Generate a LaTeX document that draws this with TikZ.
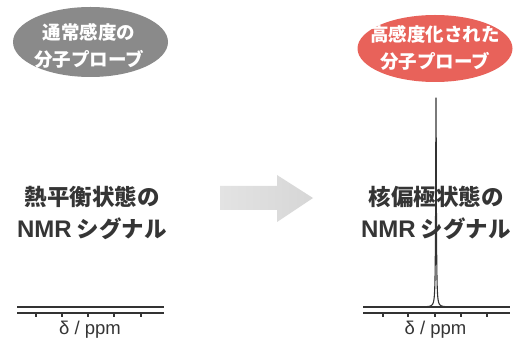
\documentclass[tikz,border=0pt]{standalone}
\usepackage{fontspec}
\setmainfont{Noto Sans CJK JP}
\newfontfamily\axisfont{Liberation Sans}
\usetikzlibrary{shapes.geometric}
\definecolor{txtgrey}{HTML}{353535}
\definecolor{probegrey}{HTML}{8A8A8A}
\definecolor{probered}{HTML}{E8625A}
\definecolor{linegrey}{HTML}{333333}
\tikzset{
  probe/.style={ellipse, inner sep=0pt, minimum width=155pt, minimum height=70pt, draw=none},
  probetext/.style={text=white, align=center, font=\bfseries\fontsize{18.5}{27}\selectfont, inner sep=0pt},
  maintext/.style={text=txtgrey, align=center, font=\bfseries\fontsize{22.5}{32}\selectfont, inner sep=0pt},
  axistext/.style={text=txtgrey, font=\axisfont\fontsize{18.5}{20}\selectfont, inner sep=0pt},
  spec/.style={draw=linegrey, line width=1.2pt},
}
\newcommand{\nmrword}{{\axisfont\bfseries\fontsize{24}{32}\selectfont NMR}}
\begin{document}
\begin{tikzpicture}[x=1pt,y=-1pt]
\useasboundingbox (0,0) rectangle (519,347);
% probes
\node[probe, fill=probegrey] (gp) at (90.5,42) {};
\node[probetext] (gpt) at (89,46) {通常感度の\\分子プローブ};
\node[probe, fill=probered, minimum height=67pt] (rp) at (435,48.5) {};
\node[probetext] (rpt) at (435,48) {高感度化された\\分子プローブ};
% arrow
\shade[left color=black!11, right color=black!16]
  (220,186) -- (277,186) -- (277,175) -- (313,198) -- (277,222) -- (277,210) -- (220,210) -- cycle;
% left spectrum
\draw[spec] (17,307) -- (164,307);
\draw[spec] (17,313) -- (164,313);
\foreach \t in {36,62,88,114,141} \draw[spec] (\t,313) -- (\t,317);
% right spectrum
\draw[spec] (363,307) -- (510,307);
\draw[spec] (363,313) -- (510,313);
\foreach \t in {383,408,435,461,487} \draw[spec] (\t,313) -- (\t,317);
\draw[spec, line width=1.1pt, line join=round] plot[domain=-30:30, samples=601, smooth] ({436+\x},{307-209/(1+(\x/0.4)^2)});
% main texts
\node[maintext] (lt) at (92,213) {熱平衡状態の\\\nmrword\ シグナル};
\node[maintext] (rt) at (436,213) {核偏極状態の\\\nmrword\ シグナル};
% axis labels
\node[axistext] (la) at (90,330) {δ / ppm};
\node[axistext] (ra) at (435.5,330) {δ / ppm};
\end{tikzpicture}
\end{document}
